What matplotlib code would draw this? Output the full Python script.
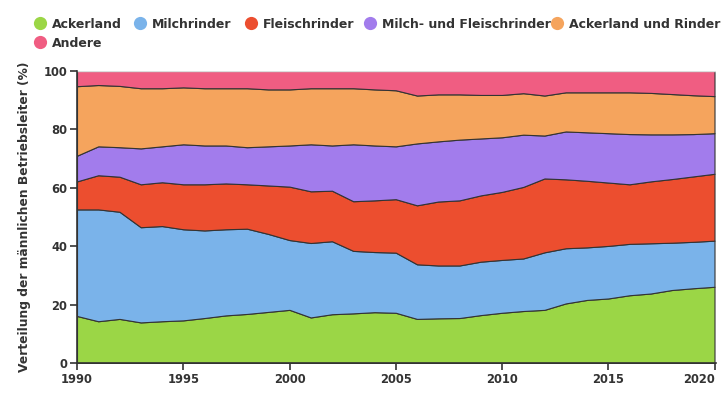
import numpy as np
import matplotlib.pyplot as plt

# Anteile der Betriebstypen (%) je Jahr
years = list(range(1990, 2021))
ackerland = [16.1, 14.3, 15.1, 13.9, 14.3, 14.6, 15.4, 16.3, 16.8, 17.5, 18.2, 15.6, 16.7, 17.0, 17.4, 17.2,
             15.1, 15.3, 15.4, 16.4, 17.2, 17.8, 18.2, 20.4, 21.6, 22.1, 23.2, 23.8, 25.0, 25.6, 26.1]
milchrinder = [36.5, 38.3, 36.7, 32.6, 32.6, 31.2, 30.0, 29.5, 29.2, 26.7, 23.9, 25.5, 25.0, 21.4, 20.6, 20.6,
               18.7, 18.1, 18.0, 18.3, 18.1, 18.0, 19.7, 18.9, 18.0, 18.0, 17.6, 17.2, 16.2, 15.9, 15.8]
fleischrinder = [9.6, 11.7, 12.0, 14.7, 15.0, 15.4, 15.8, 15.7, 15.2, 16.6, 18.3, 17.7, 17.3, 17.0, 17.7, 18.3,
                 20.2, 21.9, 22.3, 22.7, 23.3, 24.5, 25.3, 23.6, 22.8, 21.7, 20.4, 21.2, 21.8, 22.4, 22.9]
milch_fleisch = [8.8, 9.9, 10.1, 12.3, 12.3, 13.7, 13.3, 13.0, 12.7, 13.4, 14.1, 16.1, 15.5, 19.5, 18.8, 18.1,
                 21.2, 20.6, 20.8, 19.5, 18.7, 17.9, 14.7, 16.4, 16.6, 16.9, 17.2, 16.1, 15.3, 14.5, 13.9]
ackerland_rinder = [23.8, 21.0, 21.0, 20.6, 19.9, 19.5, 19.6, 19.6, 20.2, 19.5, 19.2, 19.2, 19.6, 19.2, 19.2, 19.2,
                    16.4, 16.1, 15.5, 14.9, 14.5, 14.2, 13.7, 13.4, 13.7, 14.0, 14.3, 14.2, 13.8, 13.3, 12.7]
andere = [5.2, 4.8, 5.1, 5.9, 5.9, 5.6, 5.9, 5.9, 5.9, 6.3, 6.3, 5.9, 5.9, 5.9, 6.3, 6.6,
          8.4, 8.0, 8.0, 8.2, 8.2, 7.6, 8.4, 7.3, 7.3, 7.3, 7.3, 7.5, 7.9, 8.3, 8.6]

labels = ["Ackerland", "Milchrinder", "Fleischrinder", "Milch- und Fleischrinder",
          "Ackerland und Rinder", "Andere"]
colors = ["#9bd646", "#7ab3ea", "#ec4e2f", "#a27cec", "#f5a45d", "#f05d82"]

plt.rcParams['font.family'] = ['DejaVu Sans']
text_col = "#333333"
W, H = 725, 400

fig = plt.figure(figsize=(7.25, 4.0), dpi=100)
ax = fig.add_axes([77 / W, 1 - 363 / H, (716 - 77) / W, (363 - 71) / H])

ax.stackplot(years, ackerland, milchrinder, fleischrinder, milch_fleisch, ackerland_rinder, andere,
             colors=colors, edgecolor="#333333", linewidth=0.8)

ax.set_xlim(1990, 1990 + (716 - 77) / 21.25)
ax.set_ylim(0, 100)
ax.set_xticks(range(1990, 2021, 5))
ax.set_yticks(range(0, 101, 20))
ax.tick_params(axis='both', labelsize=8.3, colors=text_col, length=5, width=1.2, pad=2)
for lab in ax.get_xticklabels() + ax.get_yticklabels():
    lab.set_fontweight('bold')
# letzte Jahreszahl an den Rand schieben
ax.get_xticklabels()[-1].set_horizontalalignment('right')

for s in ['top', 'right']:
    ax.spines[s].set_visible(False)
for s in ['left', 'bottom']:
    ax.spines[s].set_linewidth(1.2)
    ax.spines[s].set_color(text_col)
ax.axhline(100, color="#dddddd", linewidth=1)

ax.set_ylabel("Verteilung der männlichen Betriebsleiter (%)", fontsize=8.8, fontweight='bold',
              color=text_col, labelpad=9)

# Legende, zeilenweise wie im Original
legend_pos = [(40, 23), (140, 23), (251, 23), (370, 23), (557, 23), (40, 42)]
for (px, py), lab, c in zip(legend_pos, labels, colors):
    fig.add_artist(plt.Line2D([px / W], [1 - py / H], marker='o', markersize=9.5, markerfacecolor=c,
                              markeredgecolor='none', linestyle='none', transform=fig.transFigure))
    fig.text((px + 12) / W, 1 - py / H, lab, fontsize=9, fontweight='bold', color=text_col,
             ha='left', va='center_baseline')

fig.savefig("out.png", dpi=100)
